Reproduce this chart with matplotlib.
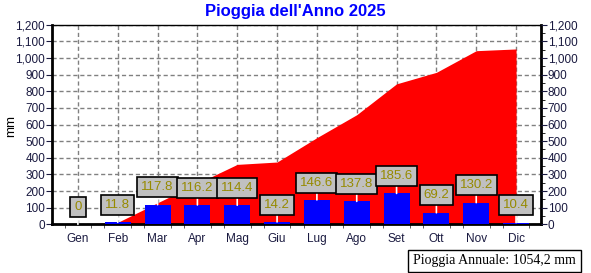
import matplotlib.pyplot as plt
from matplotlib.ticker import FuncFormatter, MultipleLocator
import numpy as np

mesi = ["Gen", "Feb", "Mar", "Apr", "Mag", "Giu", "Lug", "Ago", "Set", "Ott", "Nov", "Dic"]
pioggia = [0, 11.8, 117.8, 116.2, 114.4, 14.2, 146.6, 137.8, 185.6, 69.2, 130.2, 10.4]
totale_txt = "Pioggia Annuale: 1054,2 mm"

cumulata = np.cumsum(pioggia)
x = np.arange(len(mesi))

plt.rcParams['font.family'] = ['Liberation Sans', 'DejaVu Sans']

fig = plt.figure(figsize=(5.91, 2.73), dpi=100)
ax = fig.add_axes([0.088, 0.1784, 0.827, 0.7311])

ax.fill_between(x, cumulata, 0, color='#ff0000', lw=0, zorder=2)
# barra minima (Gen a zero si vede come linea blu)
ax.bar(x, [2.5] * len(x), width=0.65, color='#0000ff', zorder=3)
ax.bar(x, pioggia, width=0.65, color='#0000ff', zorder=3)

for xi, v in zip(x, pioggia):
    ax.annotate(f"{v:g}", xy=(xi, v), xytext=(0, 12.5), textcoords='offset points',
                ha='center', va='center', fontsize=9.5, color='#968a00',
                bbox=dict(boxstyle='square,pad=0.3', fc='#c0c0c0', ec='black', lw=1.2),
                arrowprops=dict(arrowstyle='-', color='white', lw=1.2, shrinkA=0, shrinkB=0),
                zorder=5)

ax.set_xlim(-0.65, 11.62)
ax.set_ylim(0, 1200)
ax.set_xticks(x)
ax.set_xticklabels(mesi)
ax.xaxis.set_minor_locator(MultipleLocator(1 / 3))
ax.yaxis.set_major_locator(MultipleLocator(100))
fmt = FuncFormatter(lambda v, p: f"{int(v):,}")
ax.yaxis.set_major_formatter(fmt)
ax.grid(True, color='#808080', linestyle=(0, (3, 2)), lw=1, zorder=1)
ax.set_axisbelow(True)

tick_col = '#1a1a40'
ax.tick_params(axis='x', length=0, pad=6, labelsize=8.5, colors=tick_col)
ax.tick_params(axis='x', which='minor', length=3, color='#404040')
ax.tick_params(axis='y', length=4, labelsize=8.5, colors=tick_col, pad=1)
for s in ['left', 'right', 'bottom']:
    ax.spines[s].set_linewidth(2)
ax.spines['top'].set_linewidth(1)
fig.text(0.019, 0.54, "mm", rotation=90, ha='center', va='center', fontsize=9.5)

ax2 = ax.twinx()
ax2.set_ylim(0, 1200)
ax2.yaxis.set_major_locator(MultipleLocator(100))
ax2.yaxis.set_minor_locator(MultipleLocator(50))
ax2.yaxis.set_major_formatter(fmt)
ax2.tick_params(axis='y', length=4, labelsize=8.5, colors=tick_col, pad=1)
ax2.tick_params(axis='y', which='minor', length=3, color='black')
for s in ax2.spines.values():
    s.set_visible(False)

fig.text(0.5, 0.958, "Pioggia dell'Anno 2025", ha='center', va='center',
         fontsize=12, fontweight='bold', color='#0000ff')

fig.text(0.837, 0.044, totale_txt, ha='center', va='center', fontsize=10,
         family='Liberation Serif',
         bbox=dict(boxstyle='square,pad=0.35', fc='white', ec='black', lw=1))

fig.savefig("out.png", dpi=100)
